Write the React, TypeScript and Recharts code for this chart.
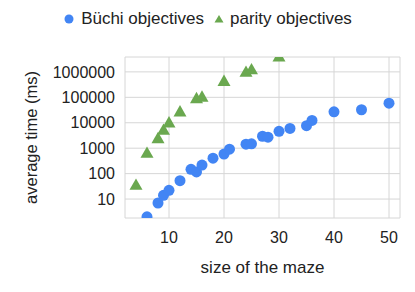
import React from "react";
import { ScatterChart, Scatter, XAxis, YAxis, CartesianGrid, Legend, Label } from "recharts";

const buchiSize = [6, 8, 9, 10, 12, 14, 15, 16, 18, 20, 21, 24, 25, 27, 28, 30, 32, 35, 36, 40, 45, 50];
const buchiTime = [2, 7, 14, 22, 53, 147, 117, 218, 405, 590, 910, 1440, 1480, 2950, 2700, 4600, 6000, 7700, 12300, 27000, 32500, 59000];
const paritySize = [4, 6, 8, 9, 10, 12, 15, 16, 20, 24, 25, 30];
const parityTime = [36, 650, 2450, 5200, 10200, 27500, 91000, 105000, 435000, 1000000, 1250000, 4000000];
const xTicks = [10, 20, 30, 40, 50];
const yTicks = [10, 100, 1000, 10000, 100000, 1000000];

const BLUE = "#4285f4";
const GREEN = "#6aa84f";
const FONT = "'Liberation Sans', Arial, sans-serif";

const buchiData = buchiSize.map((s, i) => ({ size: s, time: buchiTime[i] }));
const parityData = paritySize.map((s, i) => ({ size: s, time: parityTime[i] }));

const Dot = (props: any) => <circle cx={props.cx} cy={props.cy} r={5.5} fill={BLUE} />;

const Tri = (props: any) => {
  const { cx, cy } = props;
  const s = 6.5;
  return <path d={`M${cx},${cy - s} L${cx + s},${cy + s * 0.75} L${cx - s},${cy + s * 0.75} Z`} fill={GREEN} />;
};

const LegendBox = () => (
  <div style={{ display: "flex", justifyContent: "center", alignItems: "center", fontFamily: FONT, fontSize: 17, color: "#222" }}>
    <svg width={12} height={12} style={{ marginRight: 6 }}>
      <circle cx={6} cy={6} r={4.5} fill={BLUE} />
    </svg>
    <span>Büchi objectives</span>
    <svg width={12} height={12} style={{ marginLeft: 9, marginRight: 5 }}>
      <path d="M6,2 L10.5,9.5 L1.5,9.5 Z" fill={GREEN} />
    </svg>
    <span>parity objectives</span>
  </div>
);

export default function App() {
  return (
    <div style={{ position: "absolute", left: 0, top: 0, width: 415, height: 292, background: "#fff" }}>
      <ScatterChart width={415} height={292} margin={{ top: 37, right: 15, bottom: 24, left: 0 }}>
        <CartesianGrid stroke="#d6d6d6" strokeWidth={1} />
        <XAxis
          type="number"
          dataKey="size"
          domain={[2, 52]}
          ticks={xTicks}
          allowDataOverflow
          axisLine={false}
          tickLine={false}
          tickMargin={8}
          height={50}
          tick={{ fill: "#222", fontSize: 16, fontFamily: FONT }}
        >
          <Label value="size of the maze" position="insideBottom" offset={-5} style={{ fill: "#222", fontSize: 17, fontFamily: FONT }} />
        </XAxis>
        <YAxis
          type="number"
          dataKey="time"
          scale="log"
          domain={[1.8, 3850000]}
          ticks={yTicks}
          allowDataOverflow
          axisLine={false}
          tickLine={false}
          tickMargin={4}
          width={125}
          tick={{ fill: "#222", fontSize: 16, fontFamily: FONT }}
        >
          <Label value="average time (ms)" angle={-90} position="insideLeft" offset={31} style={{ textAnchor: "middle", fill: "#222", fontSize: 16.5, fontFamily: FONT }} />
        </YAxis>
        <Legend verticalAlign="top" content={<LegendBox />} wrapperStyle={{ top: 9, left: 0, width: 415 }} />
        <Scatter name="Büchi objectives" data={buchiData} fill={BLUE} shape={<Dot />} isAnimationActive={false} />
        <Scatter name="parity objectives" data={parityData} fill={GREEN} shape={<Tri />} isAnimationActive={false} />
      </ScatterChart>
    </div>
  );
}
